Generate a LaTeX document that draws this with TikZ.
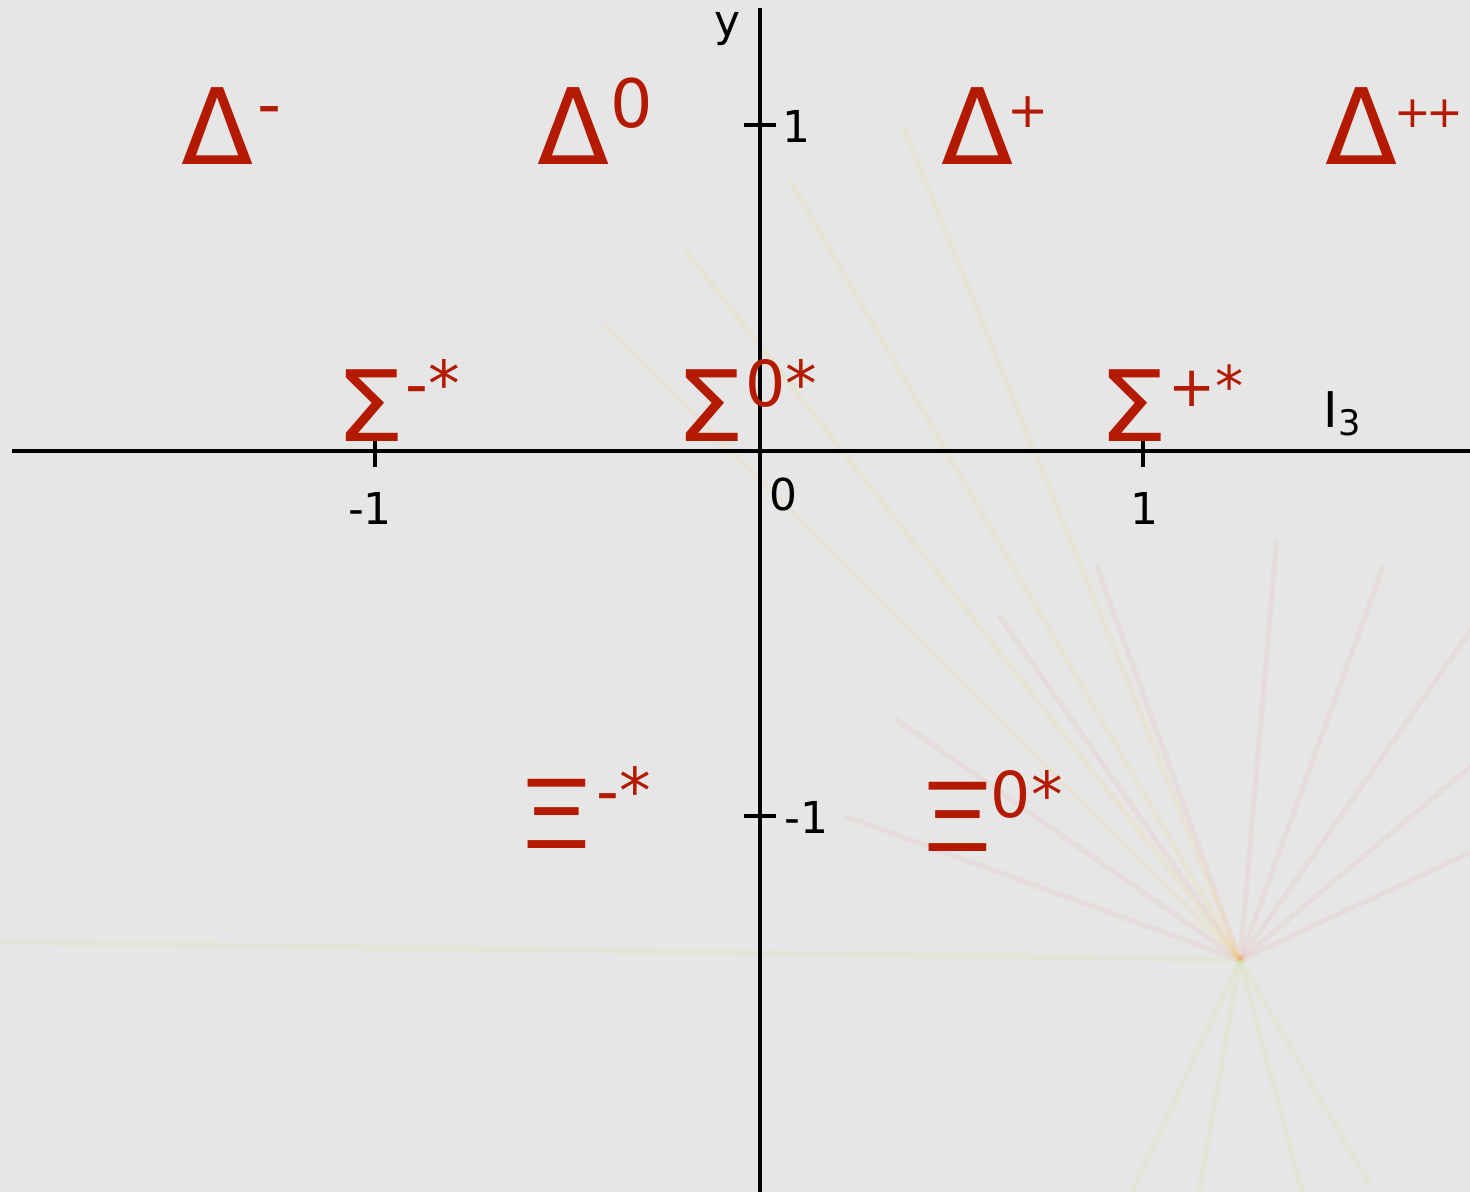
\documentclass[tikz,border=0pt]{standalone}
\usepackage{fontspec}
\setmainfont{DejaVu Sans}
\definecolor{hadron}{RGB}{180,26,0}
\definecolor{slide}{RGB}{230,230,230}
\newcommand{\chg}[2][19]{\raisebox{0.36em}{\fontsize{#1}{#1}\selectfont #2}}
\newcommand{\wide}[2]{\scalebox{#1}[1]{#2}}

\begin{document}
\begin{tikzpicture}[x=0.01cm, y=-0.01cm, line width=1.1pt,
  particle/.style={text=hadron, inner sep=0pt, anchor=base west, font=\fontsize{30}{30}\selectfont},
  ticklabel/.style={inner sep=0pt, font=\fontsize{12.5}{14}\selectfont},
  track/.style={line width=1.5pt, opacity=0.07}]
  \fill[slide] (0,0) rectangle (1470,1192);
  \useasboundingbox (0,0) rectangle (1470,1192);
  % faint tracks behind the plot
  \draw[track, yellow!70!green] (0,942) -- (1250,960);
  \foreach \a in {200,215,235,250,275,290,305,320,335}
    \draw[track, red!60] (1240,960) -- ++(\a:420);
  \foreach \a in {60,75,100,115}
    \draw[track, yellow!70!green] (1240,960) -- ++(\a:260);
  \foreach \a in {225,232,240,248}
    \draw[track, yellow!70!orange] (1240,960) -- ++(\a:900);
  % axes
  \coordinate (O) at (760,451);
  \coordinate (xl) at (12,451);
  \coordinate (xr) at (1470,451);
  \coordinate (yt) at (760,8);
  \coordinate (yb) at (760,1192);
  \draw (xl) -- (xr);
  \draw (yb) -- (yt);
  \coordinate (xm) at (375,451);
  \coordinate (xp) at (1143,451);
  \coordinate (yp) at (760,125);
  \coordinate (ym) at (760,816);
  \draw (xm) ++(0,-16) -- ++(0,32);
  \draw (xp) ++(0,-16) -- ++(0,32);
  \draw (yp) ++(-16,0) -- ++(32,0);
  \draw (ym) ++(-16,0) -- ++(32,0);
  \node[ticklabel, anchor=north] (lxm) at (370,491) {-1};
  \node[ticklabel, anchor=north] (lo) at (783,476) {0};
  \node[ticklabel, anchor=north] (lxp) at (1144,491) {1};
  \node[ticklabel, anchor=west] (lyp) at (781,126) {1};
  \node[ticklabel, anchor=west] (lym) at (783,817) {-1};
  \node[ticklabel, anchor=base] (ylab) at (727,37) {y};
  \node[ticklabel, anchor=base west, font=\fontsize{14}{16}\selectfont] (i3lab) at (1322,428)
    {I\raisebox{-0.15em}{\fontsize{10}{10}\selectfont 3}};
  % decuplet
  \node[particle] (dm) at (180,165) {Δ\kern1pt\chg[19]{-}};
  \node[particle] (d0) at (536,165) {Δ\chg{0}};
  \node[particle] (dp) at (940,165) {Δ\kern-2pt\chg[14]{+}};
  \node[particle] (dpp) at (1324,165) {Δ\kern-1pt\chg[12.5]{+\kern-1.5pt+}};
  \node[particle, font=\fontsize{28}{28}\selectfont] (sm) at (334,442) {\wide{1.12}{Σ}\chg[18]{-*}};
  \node[particle, font=\fontsize{28}{28}\selectfont] (s0) at (674,442) {\wide{1.12}{Σ}\chg[18]{0*}};
  \node[particle, font=\fontsize{28}{28}\selectfont] (sp) at (1097,442) {\wide{1.12}{Σ}\chg[16]{+*}};
  \node[particle, font=\fontsize{27}{27}\selectfont] (xim) at (514,848) {\wide{1.35}{Ξ}\chg[18]{-*}};
  \node[particle, font=\fontsize{27}{27}\selectfont] (xi0) at (915,852) {\wide{1.35}{Ξ}\kern-2pt\chg[18]{0*}};
\end{tikzpicture}
\end{document}
